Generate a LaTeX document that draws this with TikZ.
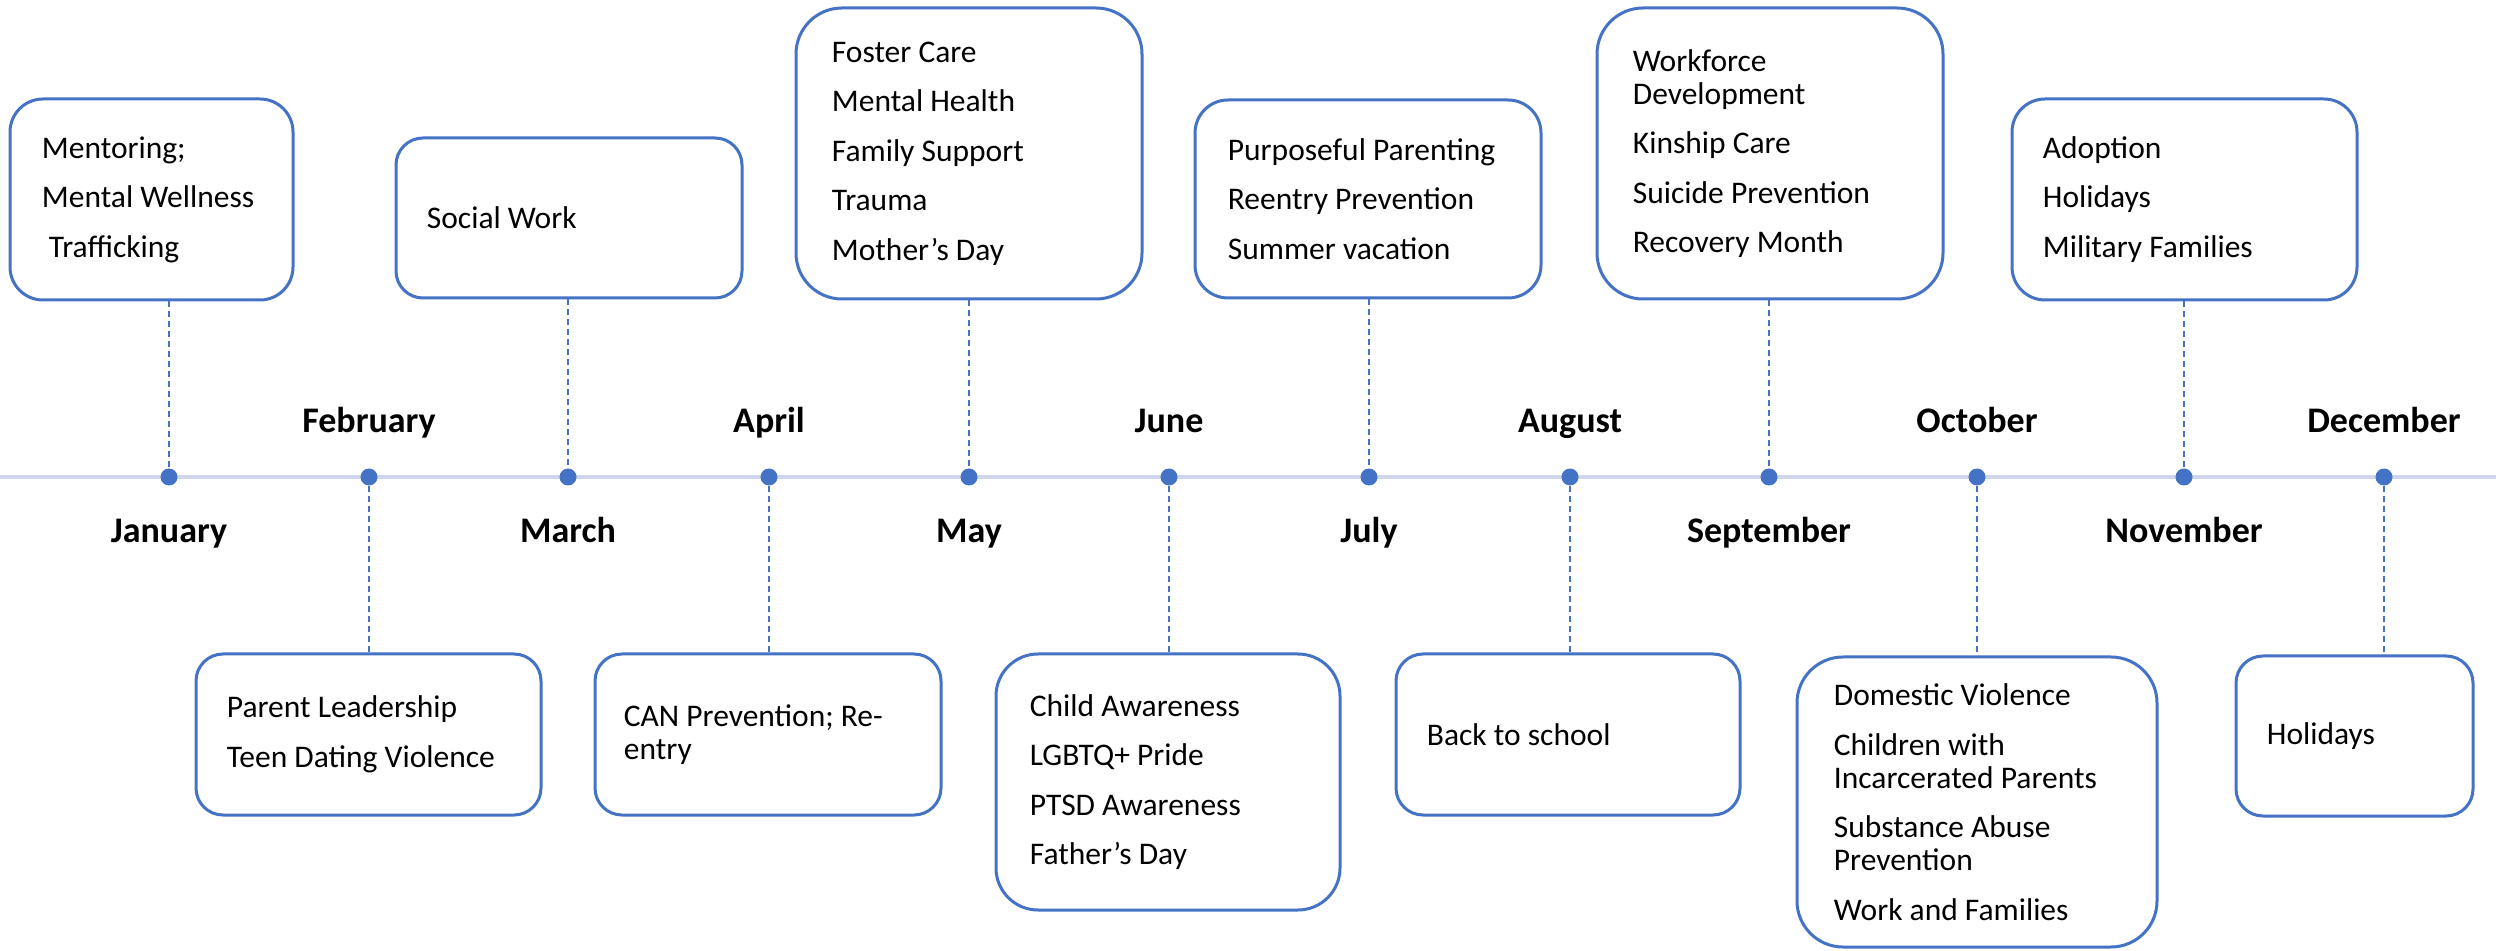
\documentclass[tikz,border=0pt]{standalone}
\usepackage{fontspec}
\setmainfont{Carlito}
\definecolor{obl}{HTML}{4472C4}
\definecolor{tlc}{RGB}{207,213,234}
\begin{document}
\begin{tikzpicture}[x=0.5pt,y=-0.5pt,
  box/.style={draw=obl, line width=1.5pt, fill=white, inner sep=0pt},
  dotn/.style={circle, fill=obl, inner sep=0pt, minimum size=8.5pt},
  conn/.style={draw=obl, line width=0.75pt, dash pattern=on 3pt off 2pt},
  txt/.style={anchor=west, inner sep=0pt, align=left, font=\fontsize{15.75pt}{16.5pt}\selectfont},
  mon/.style={anchor=base, inner sep=0pt, font=\fontsize{18pt}{21pt}\selectfont\bfseries}]
\useasboundingbox (0,0) rectangle (2496,951);
\fill[white] (0,0) rectangle (2496,951);
% timeline axis
\coordinate (axL) at (0,477);
\coordinate (axR) at (2496,477);
\draw[tlc, line width=2pt] (axL) -- (axR);

% boxes
\node[box, minimum width=141.5pt, minimum height=100.5pt, rounded corners=16.5pt] (bJan) at (151.5,199.5) {};
\node[box, minimum width=172.5pt, minimum height=80.5pt, rounded corners=13.5pt] (bFeb) at (368.5,734.5) {};
\node[box, minimum width=173pt, minimum height=80pt, rounded corners=13.5pt] (bMar) at (569,218) {};
\node[box, minimum width=173pt, minimum height=80.5pt, rounded corners=13.5pt] (bApr) at (768,734.5) {};
\node[box, minimum width=173pt, minimum height=145.5pt, rounded corners=23pt] (bMay) at (969,153.5) {};
\node[box, minimum width=172pt, minimum height=128pt, rounded corners=21pt] (bJun) at (1168,782) {};
\node[box, minimum width=173pt, minimum height=99pt, rounded corners=16.5pt] (bJul) at (1368,199) {};
\node[box, minimum width=172pt, minimum height=80.5pt, rounded corners=13.5pt] (bAug) at (1568,734.5) {};
\node[box, minimum width=173pt, minimum height=145.5pt, rounded corners=23pt] (bSep) at (1770,153.5) {};
\node[box, minimum width=180pt, minimum height=145pt, rounded corners=23pt] (bOct) at (1977,802) {};
\node[box, minimum width=172.5pt, minimum height=100.5pt, rounded corners=16.5pt] (bNov) at (2184.5,199.5) {};
\node[box, minimum width=118.5pt, minimum height=80pt, rounded corners=13.5pt] (bDec) at (2354.5,736) {};

% box texts
\node[txt] (tJan) at ([xshift=16.5pt]bJan.west) {Mentoring;\\[8.25pt]Mental Wellness\\[8.25pt]\hspace*{3.5pt}Trafficking};
\node[txt] (tFeb) at ([xshift=16pt]bFeb.west) {Parent Leadership\\[8.25pt]Teen Dating Violence};
\node[txt] (tMar) at ([xshift=16pt]bMar.west) {Social Work};
\node[txt] (tApr) at ([xshift=15pt]bApr.west) {CAN Prevention; Re-\\entry};
\node[txt] (tMay) at ([xshift=18.5pt]bMay.west) {Foster Care\\[8.25pt]Mental Health\\[8.25pt]Family Support\\[8.25pt]Trauma\\[8.25pt]Mother’s Day};
\node[txt] (tJun) at ([xshift=17.5pt]bJun.west) {Child Awareness\\[8.25pt]LGBTQ+ Pride\\[8.25pt]PTSD Awareness\\[8.25pt]Father’s Day};
\node[txt] (tJul) at ([xshift=17pt]bJul.west) {Purposeful Parenting\\[8.25pt]Reentry Prevention\\[8.25pt]Summer vacation};
\node[txt] (tAug) at ([xshift=16pt]bAug.west) {Back to school};
\node[txt] (tSep) at ([xshift=18.5pt]bSep.west) {Workforce\\Development\\[8.25pt]Kinship Care\\[8.25pt]Suicide Prevention\\[8.25pt]Recovery Month};
\node[txt] (tOct) at ([xshift=19pt]bOct.west) {Domestic Violence\\[8.25pt]Children with\\Incarcerated Parents\\[8.25pt]Substance Abuse\\Prevention\\[8.25pt]Work and Families};
\node[txt] (tNov) at ([xshift=16pt]bNov.west) {Adoption\\[8.25pt]Holidays\\[8.25pt]Military Families};
\node[txt] (tDec) at ([xshift=16pt]bDec.west) {Holidays};

% dots
\node[dotn] (dJan) at (169,477) {};
\node[dotn] (dFeb) at (369,477) {};
\node[dotn] (dMar) at (568,477) {};
\node[dotn] (dApr) at (769,477) {};
\node[dotn] (dMay) at (969,477) {};
\node[dotn] (dJun) at (1169,477) {};
\node[dotn] (dJul) at (1369,477) {};
\node[dotn] (dAug) at (1570,477) {};
\node[dotn] (dSep) at (1769,477) {};
\node[dotn] (dOct) at (1977,477) {};
\node[dotn] (dNov) at (2184,477) {};
\node[dotn] (dDec) at (2384,477) {};

% connectors
\draw[conn] (dJan |- bJan.south) -- (dJan);
\draw[conn] (dMar |- bMar.south) -- (dMar);
\draw[conn] (dMay |- bMay.south) -- (dMay);
\draw[conn] (dJul |- bJul.south) -- (dJul);
\draw[conn] (dSep |- bSep.south) -- (dSep);
\draw[conn] (dNov |- bNov.south) -- (dNov);
\draw[conn] (dFeb) -- (dFeb |- bFeb.north);
\draw[conn] (dApr) -- (dApr |- bApr.north);
\draw[conn] (dJun) -- (dJun |- bJun.north);
\draw[conn] (dAug) -- (dAug |- bAug.north);
\draw[conn] (dOct) -- (dOct |- bOct.north);
\draw[conn] (dDec) -- (dDec |- bDec.north);

% month labels
\node[mon] (mJan) at (169,543) {January};
\node[mon] (mFeb) at (369,433) {February};
\node[mon] (mMar) at (568,543) {March};
\node[mon] (mApr) at (769,433) {April};
\node[mon] (mMay) at (969,543) {May};
\node[mon] (mJun) at (1169,433) {June};
\node[mon] (mJul) at (1369,543) {July};
\node[mon] (mAug) at (1570,433) {August};
\node[mon] (mSep) at (1769,543) {September};
\node[mon] (mOct) at (1977,433) {October};
\node[mon] (mNov) at (2184,543) {November};
\node[mon] (mDec) at (2384,433) {December};
\end{tikzpicture}
\end{document}
